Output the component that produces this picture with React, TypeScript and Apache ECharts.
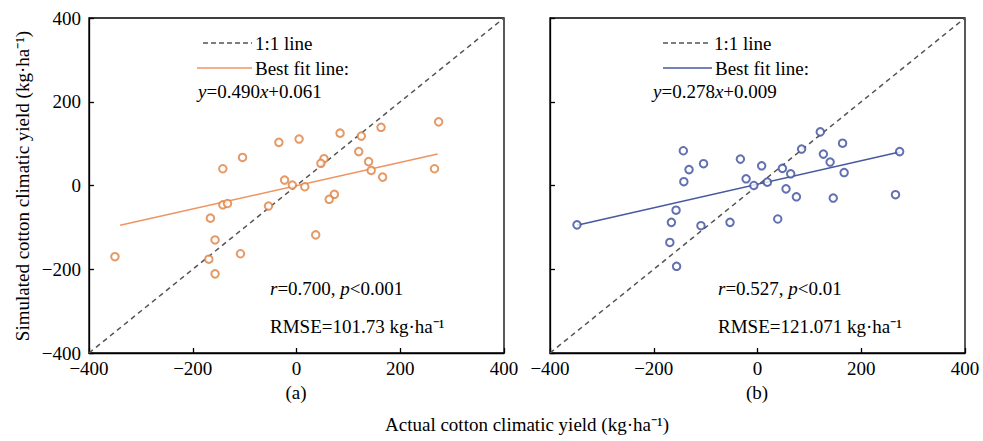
import React, { useEffect, useRef } from "react";
import * as echarts from "echarts";

// ---- data ----
const tickValues = [-400, -200, 0, 200, 400];

const actualA = [-350, -142, -104, -34, 5, -23, -8, 16, -142, -133, -54, -166, -157, -108, -169, -157,
  84, 125, 163, 274, 120, 53, 47, 139, 144, 166, 266, 73, 63, 37];
const simA = [-170, 40, 67, 103, 111, 13, 1, -3, -46, -43, -49, -78, -130, -163, -176, -211,
  125, 118, 139, 152, 81, 64, 53, 57, 36, 20, 40, -21, -33, -118];

const actualB = [-348, -143, -132, -142, -104, -33, -22, -157, -166, -109, -53, -169, -156,
  8, -7, 19, 48, 64, 55, 75, 39, 85, 121, 127, 140, 164, 167, 146, 274, 266];
const simB = [-94, 83, 38, 9, 52, 63, 16, -59, -88, -96, -88, -136, -193,
  47, 0, 8, 41, 28, -8, -27, -80, 87, 128, 75, 56, 101, 31, -30, 81, -22];

const oneToOneX = [-400, 400];
const oneToOneY = [-400, 400];
const fitAX = [-340, 272];
const fitAY = [-95, 75];
const fitBX = [-348, 274];
const fitBY = [-95, 80];

const FONT = "Liberation Serif, Times New Roman, serif";
const ORANGE = "#DF7F3E";
const ORANGE_LINE = "#EE9462";
const BLUE = "#3A4C9C";
const BLUE_LINE = "#4658A0";
const DASH = "#555555";

const fmt = (v: number) => String(v).replace("-", "\u2212");

function pair(xs: number[], ys: number[]) {
  return xs.map((x, i) => [x, ys[i]]);
}

export default function App() {
  const ref = useRef<HTMLDivElement>(null);
  useEffect(() => {
    document.body.style.margin = "0";
    if (!ref.current) return;
    const chart = echarts.init(ref.current, null, { renderer: "svg" });

    const grids = [
      { left: 89, top: 18, width: 415, height: 335 },
      { left: 550, top: 18, width: 415, height: 335 },
    ];

    const xAxis = [0, 1].map((i) => ({
      type: "value",
      gridIndex: i,
      min: tickValues[0],
      max: tickValues[tickValues.length - 1],
      interval: 200,
      axisLine: { show: true, onZero: false, lineStyle: { color: "#000", width: 1.3 } },
      axisTick: { show: true, inside: true, length: 5, lineStyle: { color: "#000", width: 1.3 } },
      axisLabel: { fontFamily: FONT, fontSize: 19, color: "#000", margin: 6, formatter: fmt },
      splitLine: { show: false },
    }));
    const yAxis = [0, 1].map((i) => ({
      type: "value",
      gridIndex: i,
      min: tickValues[0],
      max: tickValues[tickValues.length - 1],
      interval: 200,
      axisLine: { show: true, onZero: false, lineStyle: { color: "#000", width: 1.3 } },
      axisTick: { show: true, inside: true, length: 5, lineStyle: { color: "#000", width: 1.3 } },
      axisLabel: { show: i === 0, fontFamily: FONT, fontSize: 19, color: "#000", margin: 8, formatter: fmt },
      splitLine: { show: false },
    }));

    const rich = {
      i: { fontFamily: FONT, fontSize: 19, fontStyle: "italic", fill: "#000" },
    };
    const txt = (x: number, y: number, text: string, extra: any = {}) => ({
      type: "text",
      x,
      y,
      silent: true,
      style: {
        text,
        fontFamily: FONT,
        fontSize: 19,
        fill: "#000",
        verticalAlign: "middle",
        rich,
        ...extra,
      },
    });
    const seg = (x1: number, x2: number, y: number, stroke: string, dash?: number[]) => ({
      type: "line",
      silent: true,
      shape: { x1, y1: y, x2, y2: y },
      style: { stroke, lineWidth: 1.5, lineDash: dash },
    });

    const graphic = [
      // panel a legend
      seg(203, 252, 43, DASH, [5, 3]),
      txt(255, 43, "1:1 line"),
      seg(197, 252, 68, ORANGE_LINE),
      txt(255, 68, "Best fit line:"),
      txt(198, 91, "{i|y}=0.490{i|x}+0.061"),
      txt(270, 288, "{i|r}=0.700, {i|p}<0.001"),
      txt(270, 326, "RMSE=101.73 kg·ha⁻¹"),
      // panel b legend
      seg(663, 710, 43, DASH, [5, 3]),
      txt(714, 43, "1:1 line"),
      seg(663, 712, 68, BLUE_LINE),
      txt(715, 68, "Best fit line:"),
      txt(653, 91, "{i|y}=0.278{i|x}+0.009"),
      txt(718, 288, "{i|r}=0.527, {i|p}<0.01"),
      txt(718, 326, "RMSE=121.071 kg·ha⁻¹"),
      // panel labels and titles
      txt(296, 392, "(a)", { align: "center", fontSize: 19 }),
      txt(757, 392, "(b)", { align: "center", fontSize: 19 }),
      txt(527, 424, "Actual cotton climatic yield (kg·ha⁻¹)", { align: "center", fontSize: 19 }),
      {
        type: "text",
        x: 22,
        y: 186,
        rotation: Math.PI / 2,
        silent: true,
        style: {
          text: "Simulated cotton climatic yield (kg·ha⁻¹)",
          fontFamily: FONT,
          fontSize: 19,
          fill: "#000",
          align: "center",
          verticalAlign: "middle",
        },
      },
    ];

    const lineSeries = (i: number, xs: number[], ys: number[], color: string, dashed: boolean) => ({
      type: "line",
      xAxisIndex: i,
      yAxisIndex: i,
      data: pair(xs, ys),
      symbol: "none",
      silent: true,
      lineStyle: { color, width: 1.5, type: dashed ? [5, 4] : "solid" },
      z: 2,
    });

    chart.setOption({
      animation: false,
      backgroundColor: "#fff",
      grid: grids.map((g) => ({ ...g, show: true, borderColor: "#000", borderWidth: 1.3, backgroundColor: "transparent" })),
      xAxis,
      yAxis,
      graphic,
      series: [
        lineSeries(0, oneToOneX, oneToOneY, DASH, true),
        lineSeries(0, fitAX, fitAY, ORANGE_LINE, false),
        {
          type: "scatter",
          xAxisIndex: 0,
          yAxisIndex: 0,
          data: pair(actualA, simA),
          symbol: "emptyCircle",
          symbolSize: 7.5,
          itemStyle: { color: ORANGE, borderColor: ORANGE, borderWidth: 2 },
          z: 3,
        },
        lineSeries(1, oneToOneX, oneToOneY, DASH, true),
        lineSeries(1, fitBX, fitBY, BLUE_LINE, false),
        {
          type: "scatter",
          xAxisIndex: 1,
          yAxisIndex: 1,
          data: pair(actualB, simB),
          symbol: "emptyCircle",
          symbolSize: 7.5,
          itemStyle: { color: BLUE, borderColor: BLUE, borderWidth: 2 },
          z: 3,
        },
      ],
    });
    return () => chart.dispose();
  }, []);
  return <div ref={ref} style={{ width: 983, height: 441 }} />;
}
